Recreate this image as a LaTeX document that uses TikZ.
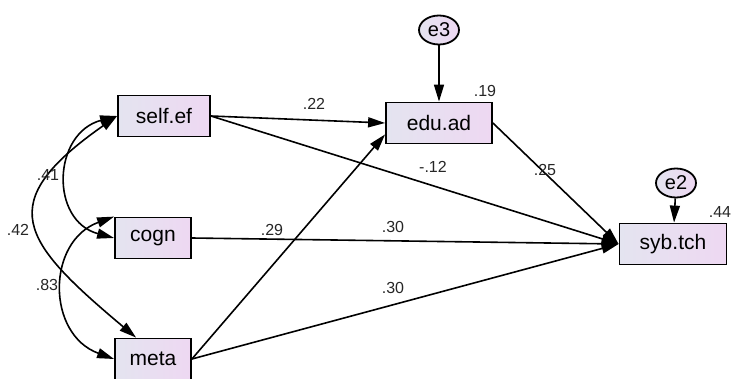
\documentclass[tikz,border=0pt]{standalone}
\usepackage{fontspec}
\setmainfont{Liberation Sans}
\usetikzlibrary{arrows.meta,shapes.geometric}
\definecolor{boxleft}{RGB}{228,228,240}
\definecolor{boxright}{RGB}{238,216,242}
\tikzset{
  obs/.style={draw, line width=1.8pt, rectangle, left color=boxleft, right color=boxright,
    minimum height=41pt, inner sep=0pt, font=\fontsize{21}{24}\selectfont},
  err/.style={draw, line width=1.8pt, ellipse, left color=boxleft, right color=boxright,
    minimum width=40pt, minimum height=29pt, inner sep=0pt, font=\fontsize{20}{22}\selectfont},
  coef/.style={font=\fontsize{16}{18}\selectfont, text=black!85, inner sep=0pt},
  path/.style={->, line width=1.6pt},
  cov/.style={<->, line width=1.6pt}
}
\begin{document}
\begin{tikzpicture}[x=1pt,y=1pt,>={Triangle[length=17pt,width=10pt]}]
    \useasboundingbox (0,0) rectangle (733,378);
    % observed variables
    \node[obs, minimum width=92pt] (self) at (164,262) {self.ef};
    \node[obs, minimum width=76pt] (cogn) at (153,140) {cogn};
    \node[obs, minimum width=76pt] (meta) at (153,19) {meta};
    \node[obs, minimum width=106pt] (edu) at (439,255) {edu.ad};
    \node[obs, minimum width=107pt] (syb) at (673,134) {syb.tch};
    % errors
    \node[err] (e3) at (439,348) {e3};
    \node[err] (e2) at (676,195) {e2};
    % regression paths
    \draw[path] (e3) -- (edu);
    \draw[path] (e2) -- (syb);
    \draw[path] (self.east) -- (edu.west);
    \draw[path] (self.east) -- (syb.west);
    \draw[path] (cogn.east) -- (syb.west);
    \draw[path] (meta.east) -- (syb.west);
    \draw[path] (meta.east) -- ([yshift=10pt]edu.south west);
    \draw[path] (edu.east) -- (syb.west);
    % covariances
    \draw[cov] (self.west) to[out=195, in=165, looseness=1.4] (cogn.west);
    \draw[cov] (cogn.north west) to[out=200, in=160, looseness=1.3] (meta.west);
    \draw[cov] (self.west) to[out=215, in=140, looseness=1.75] ([xshift=22pt]meta.north west);
    % estimates
    \node[coef] (c22) at (314,274) {.22};
    \node[coef] (c12) at (433,211) {-.12};
    \node[coef] (c29) at (272,148) {.29};
    \node[coef] (c30a) at (393,151) {.30};
    \node[coef] (c30b) at (393,90) {.30};
    \node[coef] (c25) at (545,208) {.25};
    \node[coef] (r19) at (485,287) {.19};
    \node[coef] (r44) at (720,166) {.44};
    \node[coef] (c41) at (48,203) {.41};
    \node[coef] (c42) at (18,148) {.42};
    \node[coef] (c83) at (47,93) {.83};
\end{tikzpicture}
\end{document}
